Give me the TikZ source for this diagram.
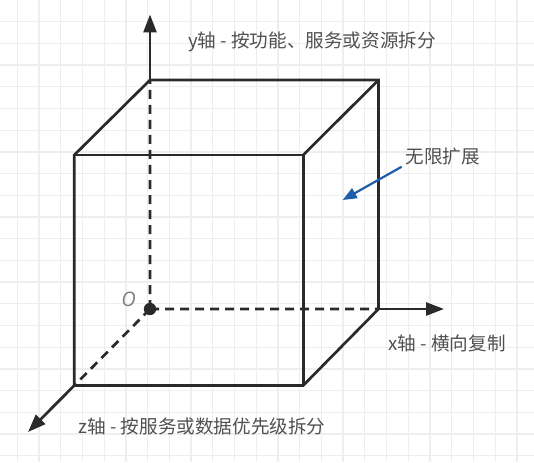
\documentclass[tikz,border=0pt]{standalone}
\usepackage{fontspec}
\usepackage{xcolor}
\usepackage{tikz}
\usetikzlibrary{arrows.meta}
\newfontfamily\cjk{Noto Sans CJK SC}
\newfontfamily\obl{Open Sans}
\definecolor{gridgray}{HTML}{EEEEEE}
\definecolor{linegray}{HTML}{2A2A2A}
\definecolor{textgray}{HTML}{505050}
\definecolor{arrowblue}{HTML}{1D5DAA}

\begin{document}
\begin{tikzpicture}[x=1pt,y=-1pt,
	edgeline/.style={draw=linegray,line width=2.7pt},
	dashline/.style={edgeline,dash pattern=on 9pt off 6pt},
	axis/.style={edgeline,-{Triangle[length=18pt,width=13pt]}},
	axislabel/.style={font=\cjk\fontsize{18.6}{20}\selectfont,text=textgray,anchor=west,inner sep=0pt}]
	\useasboundingbox (0,0) rectangle (534,462);
	%
	\foreach \gx in {0,...,24}
		\draw[gridgray,line width=1.3pt] (17.3+21.72*\gx,0) -- (17.3+21.72*\gx,462);
	\foreach \gy in {1,...,21}
		\draw[gridgray,line width=1.3pt] (0,21.7*\gy) -- (534,21.7*\gy);
	%
	\coordinate (O) at (150,309);
	\coordinate (BTL) at (150,80);
	\coordinate (BTR) at (378.5,80);
	\coordinate (BBR) at (378.5,309);
	\coordinate (FTL) at (74.3,155);
	\coordinate (FTR) at (303.2,155);
	\coordinate (FBL) at (74.3,385.5);
	\coordinate (FBR) at (303.2,385.5);
	\coordinate (ytip) at (150,14.5);
	\coordinate (xtip) at (444,309);
	\coordinate (ztip) at (28,432);
	%
	\draw[dashline] (O) -- (BTL) (O) -- (BBR) (O) -- (FBL);
	\draw[axis] (BTL) -- (ytip);
	\draw[axis] (BBR) -- (xtip);
	\draw[axis] (FBL) -- (ztip);
	%
	\draw[edgeline,line join=miter] (BTL) -- (BTR) -- (BBR) -- (FBR) -- (FBL) -- (FTL) -- cycle;
	\draw[edgeline] (FTL) -- (FTR) -- (FBR);
	\draw[edgeline] (FTR) -- (BTR);
	%
	\fill[linegray] (O) circle (6.2pt);
	\node[text=gray,font=\obl\itshape\fontsize{20}{22}\selectfont] (olabel) at (128.5,299.5) {O};
	%
	\node[axislabel] (ylabel) at (188,41.7) {y轴 - 按功能、服务或资源拆分};
	\node[axislabel] (xlabel) at (388.5,343) {x轴 - 横向复制};
	\node[axislabel] (zlabel) at (78.5,426) {z轴 - 按服务或数据优先级拆分};
	\node[axislabel] (spread) at (405.5,156.7) {无限扩展};
	%
	\coordinate (spreadfrom) at (401.7,166.7);
	\coordinate (spreadto) at (342.7,200);
	\draw[draw=arrowblue,line width=2.2pt,-{Triangle[length=14pt,width=11pt]}] (spreadfrom) -- (spreadto);
\end{tikzpicture}
\end{document}
